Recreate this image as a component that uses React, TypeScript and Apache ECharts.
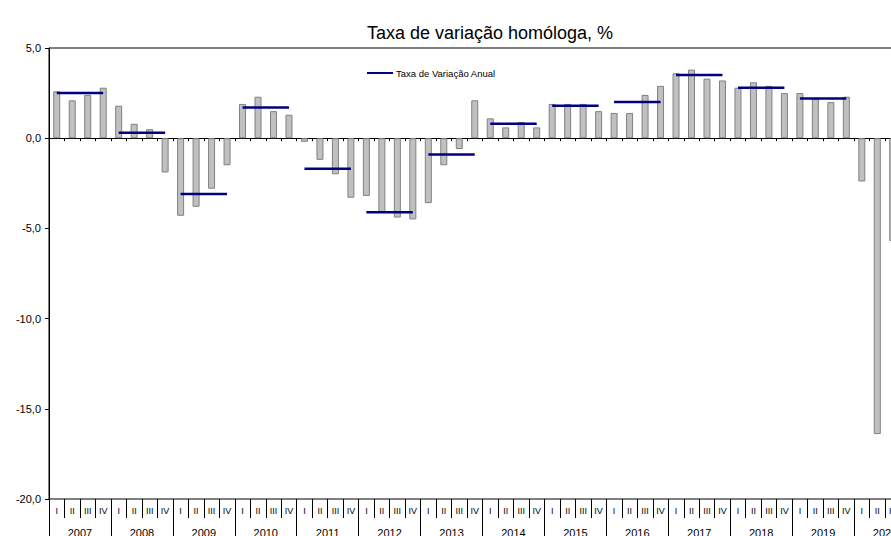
import React, { useEffect, useRef } from "react";
import * as echarts from "echarts";

const years = ["2007","2008","2009","2010","2011","2012","2013","2014","2015","2016","2017","2018","2019","2020"];
const quarterNames = ["I", "II", "III", "IV"];
const quarterlyValues: (number | null)[] = [
  2.6, 2.1, 2.4, 2.8,
  1.8, 0.8, 0.5, -1.9,
  -4.3, -3.8, -2.8, -1.5,
  1.9, 2.3, 1.5, 1.3,
  -0.2, -1.2, -2.0, -3.3,
  -3.2, -4.1, -4.4, -4.5,
  -3.6, -1.5, -0.6, 2.1,
  1.1, 0.6, 0.9, 0.6,
  1.9, 1.9, 1.9, 1.5,
  1.4, 1.4, 2.4, 2.9,
  3.6, 3.8, 3.3, 3.2,
  2.8, 3.1, 2.9, 2.5,
  2.5, 2.2, 2.0, 2.3,
  -2.4, -16.4, -5.7, null,
];
const annualValues: (number | null)[] = [2.5, 0.3, -3.1, 1.7, -1.7, -4.1, -0.9, 0.8, 1.8, 2.0, 3.5, 2.8, 2.2, null];
const yTicks = { min: -20, max: 5, interval: 5 };

const FONT = "Liberation Sans, Arial, sans-serif";

export default function App() {
  const ref = useRef<HTMLDivElement>(null);
  useEffect(() => {
    if (!ref.current) return;
    const chart = echarts.init(ref.current, undefined, { renderer: "svg" });
    const quarterCats: string[] = [];
    years.forEach((y) => quarterNames.forEach((q) => quarterCats.push(y + " " + q)));
    const annualSeries = (parity: number) =>
      quarterCats.map((_, i) => {
        const yi = Math.floor(i / 4);
        return yi % 2 === parity ? annualValues[yi] : null;
      });
    const lineCommon = {
      type: "line" as const,
      name: "Taxa de Variação Anual",
      xAxisIndex: 0,
      symbol: "none",
      connectNulls: false,
      lineStyle: { color: "#000080", width: 2.5 },
      itemStyle: { color: "#000080" },
      z: 5,
    };
    chart.setOption({
      animation: false,
      textStyle: { fontFamily: FONT },
      grid: {
        left: 49,
        top: 48,
        bottom: 37,
        right: 24,
        containLabel: false,
        outerBoundsMode: "none",
        show: true,
        borderColor: "#000",
        borderWidth: 1,
        backgroundColor: "transparent",
      },
      graphic: [
        {
          type: "text",
          x: 490,
          y: 33,
          style: {
            text: "Taxa de variação homóloga, %",
            fontSize: 18,
            fontFamily: FONT,
            fill: "#000",
            textAlign: "center",
            textVerticalAlign: "middle",
          },
        },
      ],
      legend: {
        left: 362,
        top: 63,
        icon: "rect",
        itemWidth: 26,
        itemHeight: 2,
        itemGap: 3,
        data: ["Taxa de Variação Anual"],
        textStyle: { fontSize: 9.5, color: "#000", fontFamily: FONT, padding: [0, 0, 0, -2] },
      },
      xAxis: [
        {
          type: "category",
          data: quarterCats,
          position: "bottom",
          axisLine: { onZero: true, lineStyle: { color: "#000", width: 1 } },
          axisTick: { show: true, interval: 0, length: 3, lineStyle: { color: "#000" } },
          axisLabel: { show: false },
          splitLine: { show: false },
        },
        {
          type: "category",
          data: quarterCats,
          position: "bottom",
          axisLine: { show: false, onZero: false },
          axisTick: { show: true, interval: 0, length: 19, lineStyle: { color: "#000" } },
          axisLabel: {
            show: true,
            interval: 0,
            margin: 7,
            fontSize: 9,
            color: "#000",
            fontFamily: FONT,
            formatter: (v: string) => v.split(" ")[1],
          },
          splitLine: { show: false },
        },
        {
          type: "category",
          data: years,
          position: "bottom",
          axisLine: { show: false, onZero: false },
          axisTick: { show: true, interval: 0, length: 45, lineStyle: { color: "#000" } },
          axisLabel: { show: true, interval: 0, margin: 28, fontSize: 11, color: "#000", fontFamily: FONT },
          splitLine: { show: false },
        },
      ],
      yAxis: {
        type: "value",
        min: yTicks.min,
        max: yTicks.max,
        interval: yTicks.interval,
        axisLine: { show: true, lineStyle: { color: "#000", width: 1 } },
        axisTick: { show: true, length: 4, lineStyle: { color: "#000" } },
        axisLabel: {
          margin: 8,
          fontSize: 11,
          color: "#000",
          fontFamily: FONT,
          formatter: (v: number) => v.toFixed(1).replace(".", ","),
        },
        splitLine: { show: false },
      },
      series: [
        {
          type: "bar",
          name: "Trimestral",
          xAxisIndex: 0,
          data: quarterlyValues,
          barWidth: 7,
          itemStyle: { color: "#C0C0C0", borderColor: "#808080", borderWidth: 1 },
          z: 2,
        },
        { ...lineCommon, data: annualSeries(0) },
        { ...lineCommon, data: annualSeries(1) },
      ],
    });
    return () => chart.dispose();
  }, []);
  return (
    <div style={{ position: "absolute", left: 0, top: 0, width: 891, height: 536, overflow: "hidden", background: "#fff" }}>
      <div ref={ref} style={{ width: 940, height: 536 }} />
    </div>
  );
}
